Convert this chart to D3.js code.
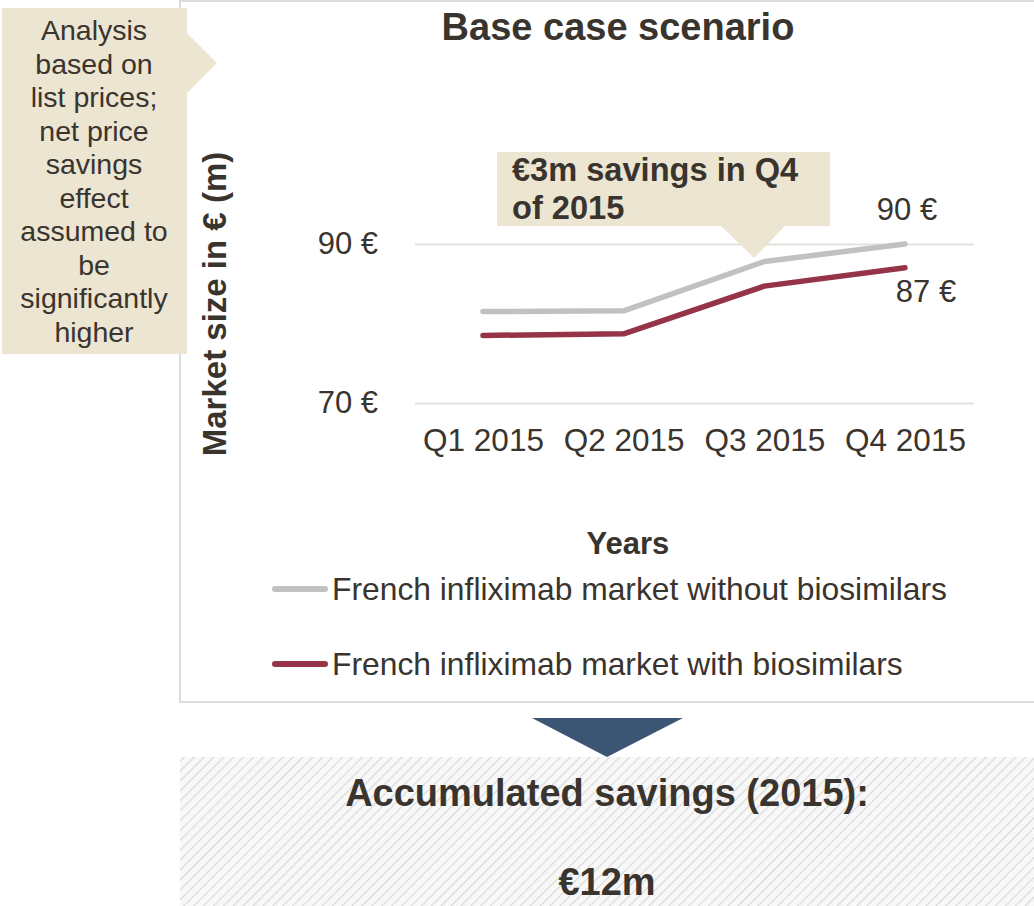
<!DOCTYPE html>
<html>
<head>
<meta charset="utf-8">
<script src="https://cdn.jsdelivr.net/npm/d3@7"></script>
<style>
  body { margin: 0; background: #ffffff; }
  svg { display: block; }
  text { font-family: "Liberation Sans", Arial, Helvetica, sans-serif; fill: #3a342e; }
</style>
</head>
<body>
<svg id="chart" width="1034" height="906"></svg>
<script>
// Quarterly French infliximab market size, € millions
const quarters = ["Q1 2015", "Q2 2015", "Q3 2015", "Q4 2015"];
const withoutBiosimilars = [81.5, 81.6, 87.8, 90];
const withBiosimilars = [78.5, 78.7, 84.7, 87];
const yTicks = [70, 90];
const seriesNames = [
  "French infliximab market without biosimilars",
  "French infliximab market with biosimilars"
];
const seriesColors = ["#c1c1c1", "#953447"];
const noteLines = ["Analysis", "based on", "list prices;", "net price", "savings", "effect", "assumed to", "be", "significantly", "higher"];
const savingsLines = ["€3m savings in Q4", "of 2015"];
const totalLines = ["Accumulated savings (2015):", "€12m"];

const svg = d3.select("#chart");
const beige = "#ebe5d2";

// hatch pattern for the totals panel
const defs = svg.append("defs");
const pat = defs.append("pattern")
  .attr("id", "hatch")
  .attr("patternUnits", "userSpaceOnUse")
  .attr("width", 7).attr("height", 7)
  .attr("patternTransform", "rotate(45)");
pat.append("rect").attr("width", 7).attr("height", 7).attr("fill", "#f8f8f8");
pat.append("line").attr("x1", 0).attr("y1", 0).attr("x2", 0).attr("y2", 7)
  .attr("stroke", "#d8d8d8").attr("stroke-width", 2.2);

// chart card
svg.append("rect")
  .attr("x", 180).attr("y", 1)
  .attr("width", 900).attr("height", 701)
  .attr("fill", "#ffffff")
  .attr("stroke", "#dcdcdc").attr("stroke-width", 2);

// title
svg.append("text")
  .attr("x", 618).attr("y", 40)
  .attr("text-anchor", "middle")
  .style("font-weight", "bold").style("font-size", "38px")
  .text("Base case scenario");

// scales
const x = d3.scalePoint().domain(quarters).range([483, 905]);
const y = d3.scaleLinear().domain([70, 90]).range([403, 244]);
const gridLeft = 415, gridRight = 974;

// y axis with gridlines
const yAxis = svg.append("g")
  .attr("transform", `translate(${gridLeft},0)`)
  .call(d3.axisLeft(y).tickValues(yTicks)
    .tickSize(-(gridRight - gridLeft)).tickPadding(37)
    .tickFormat(d => d + " €"));
yAxis.select(".domain").remove();
yAxis.selectAll(".tick line").attr("stroke", "#e6e1dc").attr("stroke-width", 2);
yAxis.selectAll(".tick text")
  .attr("fill", "#3a342e")
  .style("font-family", "'Liberation Sans', Arial, sans-serif")
  .style("font-size", "31px");

// x axis labels
const xAxis = svg.append("g")
  .attr("transform", `translate(0,${y(70)})`)
  .call(d3.axisBottom(x).tickSize(0).tickPadding(26));
xAxis.select(".domain").remove();
xAxis.selectAll(".tick text")
  .attr("fill", "#3a342e")
  .style("font-family", "'Liberation Sans', Arial, sans-serif")
  .style("font-size", "31.5px");

// axis titles
svg.append("text")
  .attr("transform", "translate(226,304) rotate(-90)")
  .attr("text-anchor", "middle")
  .style("font-weight", "bold").style("font-size", "33px")
  .text("Market size in € (m)");
svg.append("text")
  .attr("x", 628).attr("y", 554)
  .attr("text-anchor", "middle")
  .style("font-weight", "bold").style("font-size", "31px")
  .text("Years");

// savings callout with pointer
const callout = svg.append("g");
callout.append("rect")
  .attr("x", 497).attr("y", 152).attr("width", 333).attr("height", 74)
  .attr("fill", beige);
callout.append("path")
  .attr("d", "M720,225 L786,225 L754,258 Z")
  .attr("fill", beige);
callout.selectAll("text.sv").data(savingsLines).join("text")
  .attr("class", "sv")
  .attr("x", 512).attr("y", (d, i) => 181 + i * 38)
  .style("font-weight", "bold").style("font-size", "32.6px")
  .text(d => d);

// series lines
const line = d3.line().x((d, i) => x(quarters[i])).y(d => y(d));
[withoutBiosimilars, withBiosimilars].forEach((s, k) => {
  svg.append("path")
    .datum(s)
    .attr("d", line)
    .attr("fill", "none")
    .attr("stroke", seriesColors[k])
    .attr("stroke-width", 5.5)
    .attr("stroke-linejoin", "round")
    .attr("stroke-linecap", "round");
});

// end-point value labels
const last = quarters.length - 1;
svg.append("text")
  .attr("x", x(quarters[last]) + 2).attr("y", y(withoutBiosimilars[last]) - 24)
  .attr("text-anchor", "middle").style("font-size", "31px")
  .text(withoutBiosimilars[last] + " €");
svg.append("text")
  .attr("x", x(quarters[last]) + 21).attr("y", y(withBiosimilars[last]) + 34)
  .attr("text-anchor", "middle").style("font-size", "31px")
  .text(withBiosimilars[last] + " €");

// legend
const legend = svg.append("g");
seriesNames.forEach((name, k) => {
  const ly = 589 + k * 75;
  legend.append("line")
    .attr("x1", 275).attr("x2", 325).attr("y1", ly).attr("y2", ly)
    .attr("stroke", seriesColors[k]).attr("stroke-width", 6)
    .attr("stroke-linecap", "round");
  legend.append("text")
    .attr("x", 332).attr("y", ly + 11)
    .style("font-size", "31.8px")
    .text(name);
});

// side note
const note = svg.append("g");
note.append("rect")
  .attr("x", 2).attr("y", 8).attr("width", 185).attr("height", 346)
  .attr("fill", beige);
note.append("path")
  .attr("d", "M186,32 L217,63 L186,94 Z")
  .attr("fill", beige);
note.selectAll("text").data(noteLines).join("text")
  .attr("x", 94).attr("y", (d, i) => 40 + i * 33.5)
  .attr("text-anchor", "middle")
  .style("font-size", "28.5px")
  .text(d => d);

// down arrow and totals panel
svg.append("path")
  .attr("d", "M532,718 L683,718 L607,757 Z")
  .attr("fill", "#3b5674");
svg.append("rect")
  .attr("x", 180).attr("y", 757).attr("width", 854).attr("height", 149)
  .attr("fill", "url(#hatch)");
svg.selectAll("text.tot").data(totalLines).join("text")
  .attr("class", "tot")
  .attr("x", 607).attr("y", (d, i) => 806 + i * 89)
  .attr("text-anchor", "middle")
  .style("font-weight", "bold").style("font-size", "38px")
  .text(d => d);
</script>
</body>
</html>
